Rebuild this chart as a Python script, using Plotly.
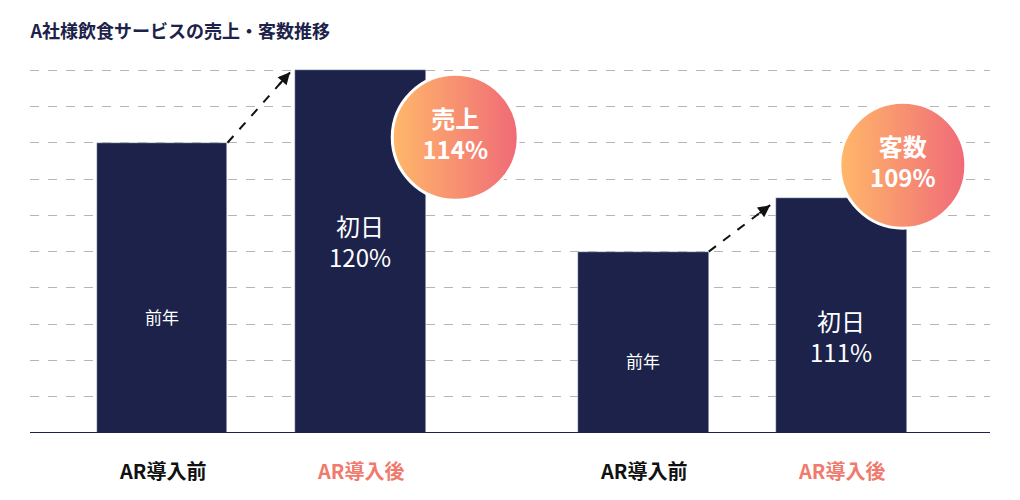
import plotly.graph_objects as go

# bar data
xpos = [0, 1, 2.43, 3.43]
values = [80, 100, 50, 64.7]
bar_text = ["前年", "初日<br>120%", "前年", "初日<br>111%"]
cat_labels = ["AR導入前", "AR導入後", "AR導入前", "AR導入後"]
badges = ["<b>売上<br>114%</b>", "<b>客数<br>109%</b>"]
badge_x = [1.48, 3.74]
badge_y = [81.5, 73.8]

navy = "#1c2249"
salmon = "#f07a6e"
font = "Noto Sans CJK JP"

fig = go.Figure()
fig.add_trace(go.Bar(x=xpos, y=values, width=0.66, marker_color=navy, hoverinfo="skip"))

# dashed arrows
arrows = [((0.33, 80), (0.646, 99.4)), ((2.76, 50), (3.07, 62.8))]
for (x0, y0), (x1, y1) in arrows:
    fig.add_trace(go.Scatter(x=[x0, x1], y=[y0, y1], mode="lines",
                             line=dict(color="#111", width=2, dash="dash"), hoverinfo="skip"))
    fig.add_annotation(x=x1, y=y1, ax=x0 + (x1 - x0) * 0.8, ay=y0 + (y1 - y0) * 0.8,
                       xref="x", yref="y", axref="x", ayref="y", text="",
                       showarrow=True, arrowhead=2, arrowsize=1.2, arrowwidth=2, arrowcolor="#111")

# gradient badges
fig.add_trace(go.Scatter(x=badge_x, y=badge_y, mode="markers+text", text=badges,
                         textfont=dict(color="white", size=24, family=font),
                         marker=dict(size=126, color="#ffb86a",
                                     gradient=dict(type="horizontal", color="#f06a78"),
                                     line=dict(color="white", width=3)),
                         hoverinfo="skip"))

for x, v, t in zip(xpos, values, bar_text):
    big = "%" in t
    fig.add_annotation(x=x, y=v * 0.4 if not big else (v - 47 if v > 70 else v - 38),
                       text=t, showarrow=False,
                       font=dict(color="white", size=24 if big else 17, family=font))

for x, t in zip(xpos, cat_labels):
    fig.add_annotation(x=x, y=-0.055, yref="paper", text="<b>" + t + "</b>", showarrow=False,
                       font=dict(color=salmon if "後" in t else "#111", size=20, family=font),
                       yanchor="top")

fig.add_shape(type="line", xref="paper", x0=0, x1=1, y0=0, y1=0, line=dict(color=navy, width=2))

fig.update_layout(
    width=1020, height=500, showlegend=False, bargap=0,
    plot_bgcolor="white", paper_bgcolor="white",
    margin=dict(l=22, r=38, t=52, b=75),
    font=dict(family=font),
    title=dict(text="<b>A社様飲食サービスの売上・客数推移</b>", x=0.022, xanchor="left", y=0.965,
               font=dict(size=18, color=navy)),
    xaxis=dict(range=[-0.667, 4.18], showticklabels=False, showgrid=False, zeroline=False),
    yaxis=dict(range=[0, 102.8], dtick=10, showticklabels=False, gridcolor="#b5b5b5",
               griddash="dash", gridwidth=1, zeroline=False),
)
fig.write_html("out.html")
